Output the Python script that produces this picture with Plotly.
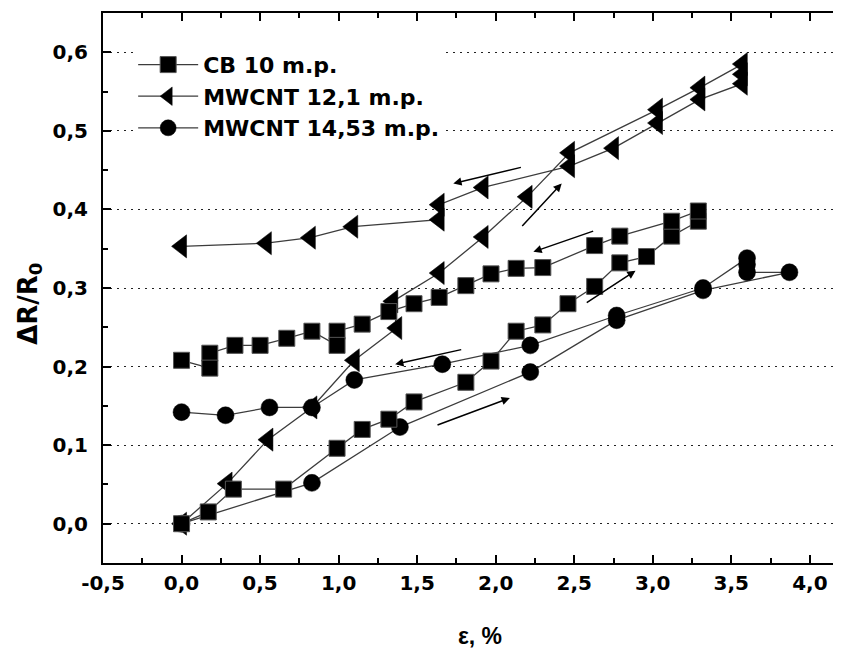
import plotly.graph_objects as go

# ---- data ----
cb_x = [0.0, 0.17, 0.33, 0.65, 0.99, 1.15, 1.32, 1.48, 1.81, 1.97, 2.13, 2.30, 2.46, 2.63, 2.79, 2.96, 3.12, 3.29,
        3.29, 3.12, 2.79, 2.63, 2.30, 2.13, 1.97, 1.81, 1.64, 1.48, 1.32, 1.15, 0.99, 0.99, 0.83, 0.67, 0.50, 0.34,
        0.18, 0.18, 0.0]
cb_y = [0.0, 0.015, 0.044, 0.044, 0.096, 0.120, 0.133, 0.155, 0.180, 0.207, 0.245, 0.253, 0.280, 0.302, 0.332, 0.340,
        0.366, 0.385,
        0.398, 0.385, 0.366, 0.354, 0.326, 0.325, 0.318, 0.303, 0.288, 0.280, 0.270, 0.254, 0.245, 0.227, 0.245,
        0.236, 0.227, 0.227, 0.217, 0.198, 0.208]

mw12_x = [0.0, 0.29, 0.55, 0.83, 1.10, 1.37, 1.345, 1.64, 1.92, 2.20, 2.47, 3.03, 3.30, 3.57,
          3.57, 3.57, 3.30, 3.03, 2.75, 2.47, 1.92, 1.64, 1.64, 1.09, 0.82, 0.54, 0.0]
mw12_y = [0.0, 0.051, 0.107, 0.148, 0.208, 0.249, 0.283, 0.319, 0.365, 0.416, 0.472, 0.527, 0.555, 0.585,
          0.572, 0.560, 0.540, 0.510, 0.478, 0.455, 0.428, 0.406, 0.387, 0.378, 0.364, 0.357, 0.353]

mw14_x = [0.0, 0.83, 1.39, 2.22, 2.77, 3.32, 3.87,
          3.60, 3.60, 3.60, 3.32, 2.77, 2.22, 1.66, 1.10, 0.83, 0.56, 0.28, 0.0]
mw14_y = [0.0, 0.052, 0.123, 0.193, 0.259, 0.297, 0.320,
          0.320, 0.330, 0.338, 0.300, 0.265, 0.227, 0.203, 0.183, 0.148, 0.148, 0.138, 0.142]

series_names = ["CB 10 m.p.", "MWCNT 12,1 m.p.", "MWCNT 14,53 m.p."]

# arrows: (tail x, tail y, head x, head y)
arrow_tail_x = [2.63, 2.57, 1.79, 1.62, 2.17, 2.16]
arrow_tail_y = [0.373, 0.280, 0.222, 0.125, 0.454, 0.377]
arrow_head_x = [2.24, 2.89, 1.36, 2.09, 1.73, 2.42]
arrow_head_y = [0.346, 0.322, 0.203, 0.160, 0.433, 0.433]

x_tickvals = [-0.5, 0.0, 0.5, 1.0, 1.5, 2.0, 2.5, 3.0, 3.5, 4.0]
x_ticktext = ["-0,5", "0,0", "0,5", "1,0", "1,5", "2,0", "2,5", "3,0", "3,5", "4,0"]
y_tickvals = [0.0, 0.1, 0.2, 0.3, 0.4, 0.5, 0.6]
y_ticktext = ["0,0", "0,1", "0,2", "0,3", "0,4", "0,5", "0,6"]

x_title = "ε, %"
y_title = "ΔR/R<sub>0</sub>"

LINE_COLOR = "#3c3c3c"
FONT = "DejaVu Sans"

fig = go.Figure()
fig.add_trace(go.Scatter(x=mw12_x, y=mw12_y, name=series_names[1], mode="lines+markers", legendrank=2,
                         line=dict(color=LINE_COLOR, width=1.3),
                         marker=dict(symbol="triangle-left", size=20, color="black",
                                     line=dict(color="black", width=0.5))))
fig.add_trace(go.Scatter(x=mw14_x, y=mw14_y, name=series_names[2], mode="lines+markers", legendrank=3,
                         line=dict(color=LINE_COLOR, width=1.3),
                         marker=dict(symbol="circle", size=17, color="black",
                                     line=dict(color="black", width=0.5))))
fig.add_trace(go.Scatter(x=cb_x, y=cb_y, name=series_names[0], mode="lines+markers", legendrank=1,
                         line=dict(color=LINE_COLOR, width=1.3),
                         marker=dict(symbol="square", size=16, color="black",
                                     line=dict(color="#555555", width=1))))

for tx, ty, hx, hy in zip(arrow_tail_x, arrow_tail_y, arrow_head_x, arrow_head_y):
    fig.add_annotation(x=hx, y=hy, ax=tx, ay=ty, xref="x", yref="y", axref="x", ayref="y",
                       text="", showarrow=True, arrowhead=2, arrowsize=1.1, arrowwidth=1.5,
                       arrowcolor="black", standoff=0, startstandoff=0)

# y-axis title placed as a rotated annotation
fig.add_annotation(text=y_title, xref="paper", yref="paper", x=-0.097, y=0.471,
                   xanchor="center", yanchor="middle", textangle=-90, showarrow=False,
                   font=dict(family=FONT, size=26, color="black", weight="bold"))

# page body has an 8px default margin, compensated in the figure margins
fig.update_layout(
    width=849, height=652,
    margin=dict(l=95, r=0, t=5, b=97),
    paper_bgcolor="white", plot_bgcolor="white",
    showlegend=True,
    legend=dict(x=0.04, y=0.944, xanchor="left", yanchor="top",
                bgcolor="white", borderwidth=0, traceorder="normal",
                itemwidth=60,
                font=dict(family=FONT, size=22, color="black", weight="bold")),
    font=dict(family=FONT, color="black"),
)

fig.update_xaxes(range=[-0.5, 4.3], showgrid=False, zeroline=False, automargin=False,
                 showline=True, linecolor="black", linewidth=2, mirror="ticks",
                 ticks="inside", ticklen=8, tickwidth=1.5, tickcolor="black",
                 tickvals=x_tickvals, ticktext=x_ticktext, ticklabelstandoff=1,
                 tickfont=dict(family=FONT, size=20, color="black", weight="bold"),
                 minor=dict(dtick=0.25, tick0=0, ticks="inside", ticklen=5, tickwidth=1.5,
                            tickcolor="black", showgrid=False),
                 title=dict(text=x_title, standoff=34,
                            font=dict(family="Liberation Sans", size=23, color="black", weight="bold")))

fig.update_yaxes(range=[-0.05, 0.65], showgrid=True, gridcolor="#222222", gridwidth=1,
                 griddash="2px,5px", zeroline=False, automargin=False,
                 showline=True, linecolor="black", linewidth=2, mirror=False,
                 ticks="inside", ticklen=8, tickwidth=1.5, tickcolor="black",
                 tickvals=y_tickvals, ticktext=y_ticktext, ticklabelstandoff=9,
                 tickfont=dict(family=FONT, size=20, color="black", weight="bold"),
                 minor=dict(dtick=0.05, tick0=0, ticks="inside", ticklen=5, tickwidth=1.5,
                            tickcolor="black", showgrid=False))

fig.write_html("out.html")
